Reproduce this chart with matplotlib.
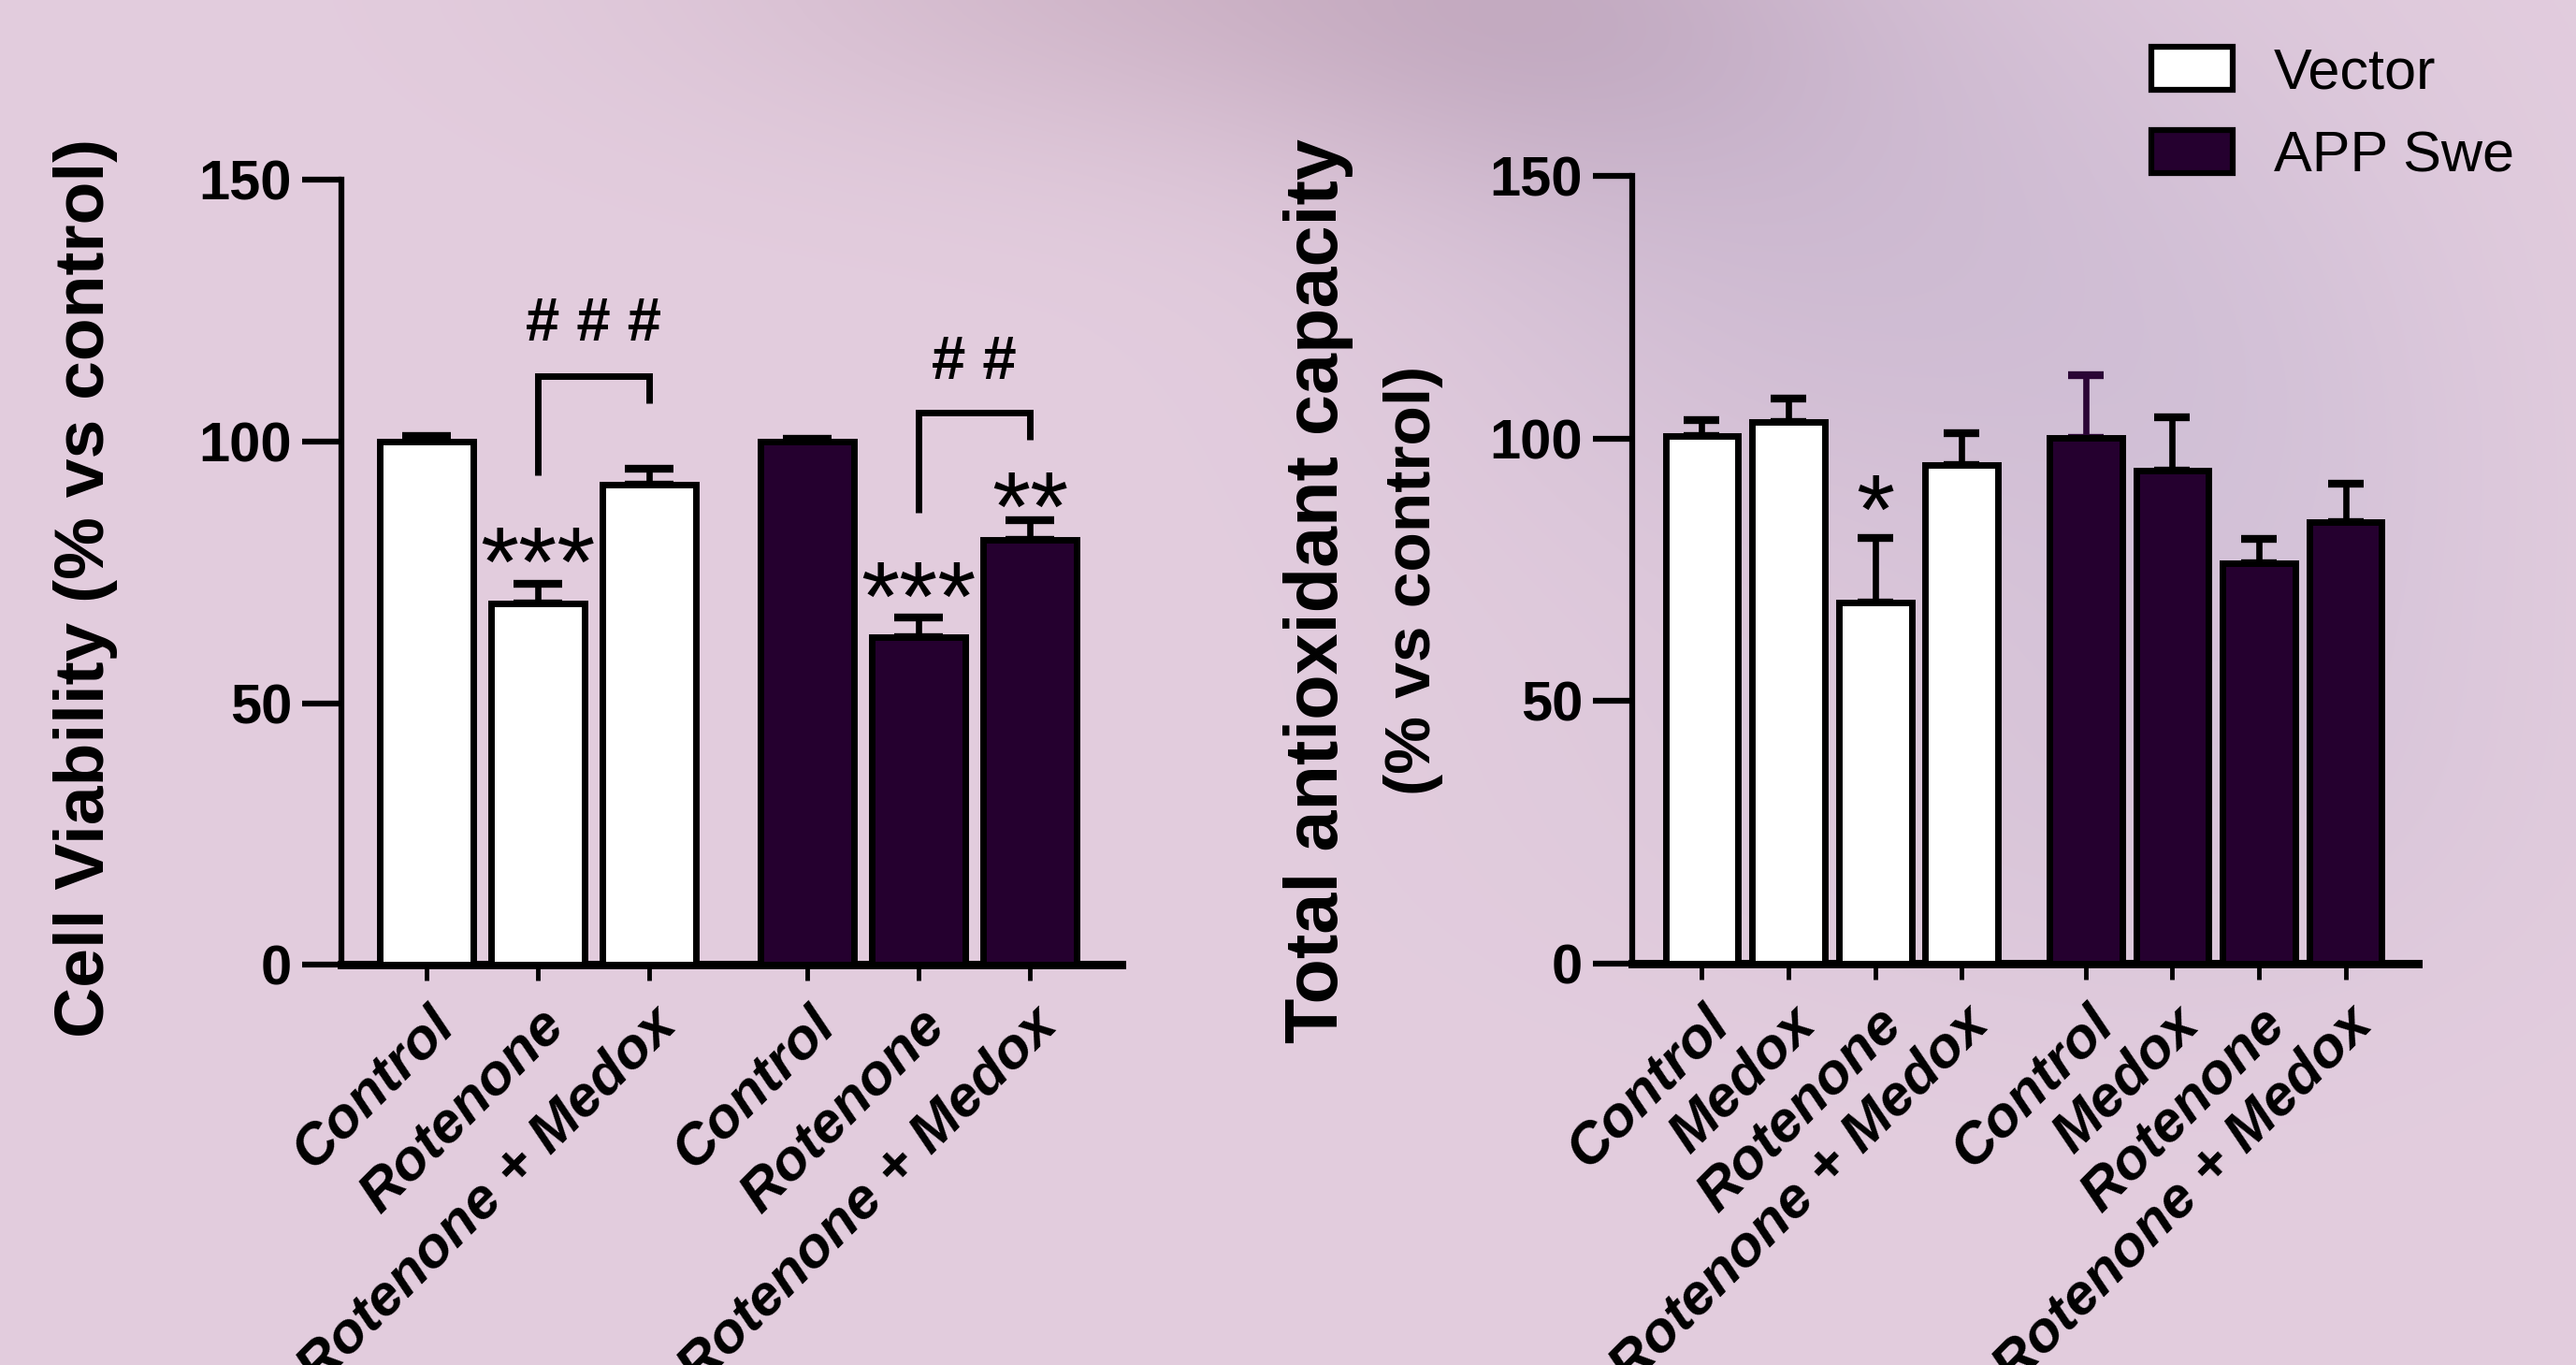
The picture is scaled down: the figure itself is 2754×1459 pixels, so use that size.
import numpy as np
import matplotlib
matplotlib.use("Agg")
import matplotlib.pyplot as plt
from matplotlib.patches import Patch

# ---------------- data ----------------
cv_labels = ["Control", "Rotenone", "Rotenone + Medox"]
cv_vector = [100.0, 69.0, 91.8]
cv_vector_err = [1.0, 3.8, 3.1]
cv_app = [100.0, 62.7, 81.3]
cv_app_err = [0.6, 3.7, 3.6]

tac_labels = ["Control", "Medox", "Rotenone", "Rotenone + Medox"]
tac_vector = [100.4, 103.2, 68.8, 95.0]
tac_vector_err = [3.1, 4.4, 12.2, 6.0]
tac_app = [100.2, 93.9, 76.2, 84.1]
tac_app_err = [11.8, 10.1, 4.6, 7.3]

series_names = ["Vector", "APP Swe"]
y_ticks = [0, 50, 100, 150]

# ---------------- style ----------------
BG = "#E3CDDE"
DARK = "#25002F"
FONT = "Liberation Sans"
plt.rcParams["font.family"] = [FONT, "DejaVu Sans"]

W, H = 2754, 1459
fig = plt.figure(figsize=(W / 100, H / 100), dpi=100)
fig.patch.set_facecolor(BG)

# decorative blurred background (cell-like shading)
bg = fig.add_axes([0, 0, 1, 1], zorder=-10)
yy, xx = np.mgrid[0:H:4, 0:W:4]
base = np.array([227, 205, 222], float) / 255.0
img = np.ones(xx.shape + (3,)) * base
def blob(cx, cy, sx, sy, col, amp):
    g = amp * np.exp(-(((xx - cx) / sx) ** 2 + ((yy - cy) / sy) ** 2) / 2.0)
    c = np.array(col, float) / 255.0
    return g[..., None] * (c - base)
img += blob(1300, -40, 380, 140, (200, 172, 192), 0.7)
img += blob(1950, 230, 300, 280, (196, 178, 204), 0.6)
img += blob(2400, 520, 220, 300, (205, 190, 214), 0.55)
img += blob(2150, 880, 380, 160, (212, 194, 214), 0.35)
img += blob(1650, 40, 220, 140, (200, 175, 196), 0.45)
img = np.clip(img, 0, 1)
bg.imshow(img, extent=[0, W, H, 0], aspect="auto", interpolation="bilinear")
bg.set_xlim(0, W)
bg.set_ylim(H, 0)
bg.axis("off")

def style_axes(ax):
    ax.set_facecolor("none")
    for s in ["top", "right"]:
        ax.spines[s].set_visible(False)
    ax.spines["left"].set_linewidth(4.5)
    ax.spines["bottom"].set_linewidth(6.5)
    ax.set_ylim(0, 150)
    ax.set_yticks(y_ticks)
    ax.tick_params(axis="y", length=30, width=4.5, labelsize=43, pad=8)
    ax.tick_params(axis="x", length=12, width=3.5, pad=14)
    for t in ax.get_yticklabels():
        t.set_fontweight("bold")

def draw_group(ax, pos, vals, errs, color, ecolors, capsize):
    for p, v, e, ec in zip(pos, vals, errs, ecolors):
        ax.errorbar([p], [v], yerr=[[0], [e]], fmt="none", ecolor=ec,
                    elinewidth=4.8, capsize=capsize, capthick=6, zorder=2)
    ax.bar(pos, vals, width=0.84, color=color, edgecolor="black",
           linewidth=5, zorder=3)

def set_xlabels(ax, pos, labels):
    ax.set_xticks(pos)
    ax.set_xticklabels(labels, rotation=45, ha="right", va="top",
                       rotation_mode="anchor", fontsize=44,
                       fontweight="bold", fontstyle="italic")

# ---------------- left panel: cell viability ----------------
ax1 = fig.add_axes([0.1325, 0.2933, 0.3030, 0.5748])
style_axes(ax1)
gap1 = 1.426
pos_v1 = np.arange(len(cv_vector), dtype=float)
pos_a1 = pos_v1 + len(cv_vector) - 1 + gap1
draw_group(ax1, pos_v1, cv_vector, cv_vector_err, "white", ["black"] * 3, 19)
draw_group(ax1, pos_a1, cv_app, cv_app_err, DARK, ["black"] * 3, 19)
ax1.set_xlim(-0.767, 6.252)
set_xlabels(ax1, np.concatenate([pos_v1, pos_a1]), cv_labels + cv_labels)

def bracket(ax, x0, x1, ytop, yl, yr, text, ty):
    ax.plot([x0, x0, x1, x1], [yl, ytop, ytop, yr], color="black",
            lw=5, solid_joinstyle="miter", solid_capstyle="butt", zorder=4)
    ax.text((x0 + x1) / 2, ty, text, ha="center", va="center",
            fontsize=47, fontweight="bold", zorder=5)

bracket(ax1, pos_v1[1], pos_v1[2], 112.6, 93.5, 107.4, "# # #", 122.3)
bracket(ax1, pos_a1[1], pos_a1[2], 105.5, 86.4, 100.4, "# #", 115.0)

def stars(ax, x, y, s):
    ax.text(x, y, s, ha="center", va="center", fontsize=76,
            fontweight="normal", zorder=5)

stars(ax1, pos_v1[1], 75.5, "***")
stars(ax1, pos_a1[1], 68.8, "***")
stars(ax1, pos_a1[2], 86.0, "**")

fig.text(0.0332, 0.5696, "Cell Viability (% vs control)", rotation=90,
         ha="center", va="center", fontsize=54, fontweight="bold")

# ---------------- right panel: total antioxidant capacity ----------------
ax2 = fig.add_axes([0.6336, 0.2942, 0.3050, 0.5769])
style_axes(ax2)
gap2 = 1.432
pos_v2 = np.arange(len(tac_vector), dtype=float)
pos_a2 = pos_v2 + len(tac_vector) - 1 + gap2
draw_group(ax2, pos_v2, tac_vector, tac_vector_err, "white", ["black"] * 4, 14)
draw_group(ax2, pos_a2, tac_app, tac_app_err, DARK,
           ["#2A0535", "black", "black", "black"], 14)
ax2.set_xlim(-0.805, 8.267)
set_xlabels(ax2, np.concatenate([pos_v2, pos_a2]), tac_labels + tac_labels)
stars(ax2, pos_v2[2], 85.0, "*")

fig.text(0.5118, 0.567, "Total antioxidant capacity", rotation=90,
         ha="center", va="center", fontsize=57, fontweight="bold")
fig.text(0.5488, 0.5746, "(% vs control)", rotation=90,
         ha="center", va="center", fontsize=50, fontweight="bold")

# ---------------- legend ----------------
handles = [Patch(facecolor="white", edgecolor="black", linewidth=4.5),
           Patch(facecolor=DARK, edgecolor="black", linewidth=4.5)]
fig.legend(handles, series_names, loc="upper left",
           bbox_to_anchor=(2300 / W, 1 - 50 / H), frameon=False,
           fontsize=44, handlelength=1.42, handleheight=0.78,
           handletextpad=0.72, labelspacing=0.52, borderpad=0,
           borderaxespad=0)

fig.savefig("out.png", dpi=100, facecolor=BG)
